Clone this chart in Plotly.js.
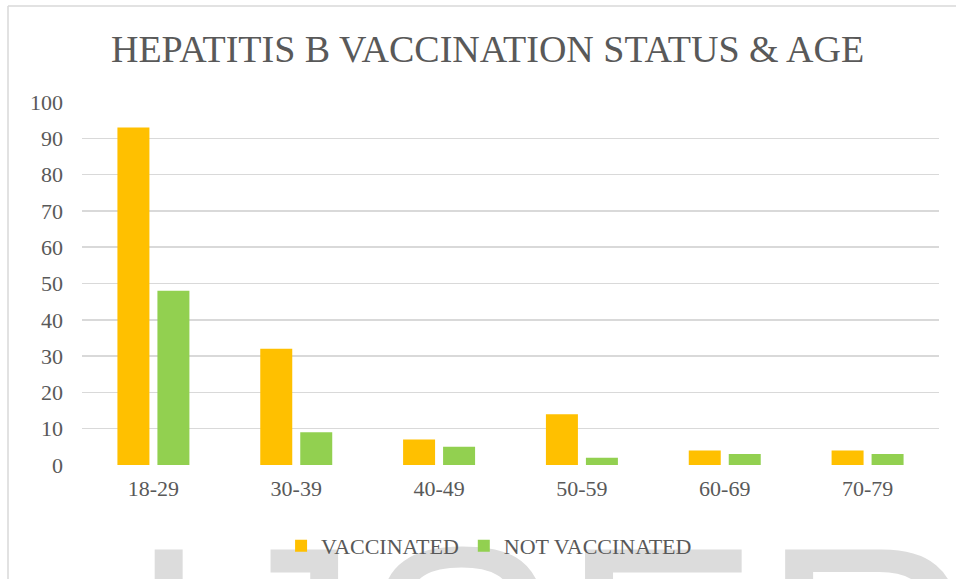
<!DOCTYPE html>
<html>
<head>
<meta charset="utf-8">
<script src="https://cdn.plot.ly/plotly-3.0.1.min.js"></script>
<style>
  html, body { margin: 0; padding: 0; background: #ffffff; font-family: "Liberation Serif", serif; }
  #fontwarm { position: absolute; left: 0; top: 0; font-family: "Liberation Serif", serif; font-size: 22px; color: #ffffff; opacity: 0.01; }
  #chart { position: absolute; left: 0; top: 0; width: 956px; height: 579px; }
</style>
</head>
<body>
<span id="fontwarm">.</span>
<div id="chart"></div>
<script>
// Age groups and respondent counts by hepatitis B vaccination status
const ageGroups = ["18-29", "30-39", "40-49", "50-59", "60-69", "70-79"];
const vaccinated = [93, 32, 7, 14, 4, 4];
const notVaccinated = [48, 9, 5, 2, 3, 3];
const yTicks = [0, 10, 20, 30, 40, 50, 60, 70, 80, 90, 100];

const textColor = "#595959";
const serifFont = "Liberation Serif";

// plot-area size, used to place the frame and the watermark in paper units
const W = 956, H = 579;
const M = { l: 82, r: 17, t: 102, b: 114 };
const pw = W - M.l - M.r, ph = H - M.t - M.b;
const px = v => (v - M.l) / pw;
const py = v => (H - M.b - v) / ph;

const traces = [
  { type: "bar", name: "VACCINATED", x: ageGroups, y: vaccinated, marker: { color: "#FFC000" } },
  { type: "bar", name: "NOT VACCINATED", x: ageGroups, y: notVaccinated, marker: { color: "#92D050" } }
];

const layout = {
  width: W, height: H,
  margin: { l: M.l, r: M.r, t: M.t, b: M.b, pad: 0 },
  paper_bgcolor: "rgba(255,255,255,0)",
  plot_bgcolor: "rgba(0,0,0,0)",
  font: { family: serifFont, color: textColor, size: 22 },
  title: {
    text: "HEPATITIS B VACCINATION STATUS &amp; AGE",
    font: { family: serifFont, size: 38, color: textColor },
    x: 0.51, xanchor: "center", y: 0.916, yanchor: "middle"
  },
  barmode: "group",
  bargap: 0.44,
  bargroupgap: 0.2,
  xaxis: {
    type: "category",
    showgrid: false, zeroline: false, showline: false,
    ticks: "", ticklabelstandoff: 8,
    tickfont: { family: serifFont, size: 22, color: textColor }
  },
  yaxis: {
    range: [0, 100], tickvals: yTicks,
    showgrid: true, gridcolor: "#d9d9d9", gridwidth: 1.5,
    zeroline: false, showline: false, ticks: "",
    ticklabelstandoff: 18,
    tickfont: { family: serifFont, size: 22, color: textColor }
  },
  showlegend: true,
  legend: {
    orientation: "h", x: 0.475, xanchor: "center",
    y: -0.223, yanchor: "middle",
    itemwidth: 30, bgcolor: "rgba(0,0,0,0)",
    font: { family: serifFont, size: 22, color: textColor },
    traceorder: "normal"
  },
  // chart frame: left and top edges
  shapes: [
    { type: "line", xref: "paper", yref: "paper", layer: "below",
      x0: px(8), x1: px(8), y0: py(6), y1: py(H + 10),
      line: { color: "#d9d9d9", width: 1.5 } },
    { type: "line", xref: "paper", yref: "paper", layer: "below",
      x0: px(8), x1: px(W + 10), y0: py(6), y1: py(6),
      line: { color: "#d9d9d9", width: 1.5 } }
  ],
  annotations: [
    { text: "IJSER", xref: "paper", yref: "paper",
      x: px(125), y: py(482), xanchor: "left", yanchor: "top",
      showarrow: false, font: { family: "Liberation Sans", size: 300, color: "#dcdcdc" } }
  ]
};

function draw() {
  return Plotly.newPlot("chart", traces, layout, { displayModeBar: false, staticPlot: true }).then(gd => {
    // keep the watermark underneath the legend and titles
    const info = gd.querySelector(".infolayer");
    const wm = info && info.querySelector(".annotation");
    if (wm) info.insertBefore(wm, info.firstChild);
  });
}

setTimeout(draw, 50);
</script>
</body>
</html>
